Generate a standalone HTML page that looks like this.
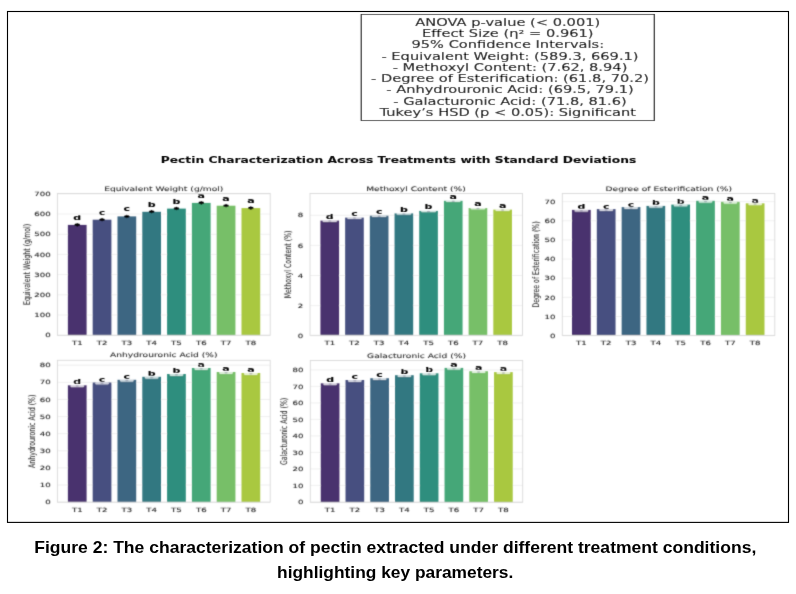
<!DOCTYPE html>
<html><head><meta charset="utf-8"><title>Figure 2</title>
<style>
html,body{margin:0;padding:0;background:#fff;}
body{width:796px;height:594px;position:relative;overflow:hidden;}
.cap{position:absolute;left:-3px;width:796px;text-align:center;font-family:"Liberation Sans",sans-serif;font-weight:bold;color:#000;white-space:nowrap;}
.cap span{display:inline-block;transform-origin:center;}
</style></head><body>
<svg width="796" height="594" viewBox="0 0 796 594" font-family="'DejaVu Sans','Liberation Sans',sans-serif" style="position:absolute;left:0;top:0"><defs><filter id="soft" x="0" y="0" width="796" height="594" filterUnits="userSpaceOnUse"><feConvolveMatrix order="3" kernelMatrix="1 4 1 4 20 4 1 4 1" divisor="40" edgeMode="duplicate" preserveAlpha="false"/></filter><filter id="soft2" x="0" y="0" width="796" height="594" filterUnits="userSpaceOnUse"><feConvolveMatrix order="3" kernelMatrix="0 1 0 1 10 1 0 1 0" divisor="14" edgeMode="duplicate" preserveAlpha="false"/></filter></defs><rect x="7.5" y="11.5" width="781" height="510.9" fill="#fff" stroke="#000" stroke-width="1.1"/><g filter="url(#soft2)"><rect transform="scale(1.468 1)" x="246.117" y="14.5" width="199.591" height="106" fill="#fff" stroke="#2e2e2e" stroke-width="0.88"/>
<text transform="translate(507.80 25.80) scale(1.468 1)" font-size="9.97" text-anchor="middle" font-weight="normal" fill="#000"  stroke="#000" stroke-width="0.1">ANOVA p-value (&lt; 0.001)</text>
<text transform="translate(507.80 37.05) scale(1.468 1)" font-size="9.97" text-anchor="middle" font-weight="normal" fill="#000"  stroke="#000" stroke-width="0.1">Effect Size (η² = 0.961)</text>
<text transform="translate(507.80 48.30) scale(1.468 1)" font-size="9.97" text-anchor="middle" font-weight="normal" fill="#000"  stroke="#000" stroke-width="0.1">95% Confidence Intervals:</text>
<text transform="translate(510.00 59.55) scale(1.468 1)" font-size="9.97" text-anchor="middle" font-weight="normal" fill="#000"  stroke="#000" stroke-width="0.1">- Equivalent Weight: (589.3, 669.1)</text>
<text transform="translate(510.00 70.80) scale(1.468 1)" font-size="9.97" text-anchor="middle" font-weight="normal" fill="#000"  stroke="#000" stroke-width="0.1">- Methoxyl Content: (7.62, 8.94)</text>
<text transform="translate(510.00 82.05) scale(1.468 1)" font-size="9.97" text-anchor="middle" font-weight="normal" fill="#000"  stroke="#000" stroke-width="0.1">- Degree of Esterification: (61.8, 70.2)</text>
<text transform="translate(510.00 93.30) scale(1.468 1)" font-size="9.97" text-anchor="middle" font-weight="normal" fill="#000"  stroke="#000" stroke-width="0.1">- Anhydrouronic Acid: (69.5, 79.1)</text>
<text transform="translate(510.00 104.55) scale(1.468 1)" font-size="9.97" text-anchor="middle" font-weight="normal" fill="#000"  stroke="#000" stroke-width="0.1">- Galacturonic Acid: (71.8, 81.6)</text>
<text transform="translate(507.80 115.80) scale(1.468 1)" font-size="9.97" text-anchor="middle" font-weight="normal" fill="#000"  stroke="#000" stroke-width="0.1">Tukey’s HSD (p &lt; 0.05): Significant</text>
<text transform="translate(398.50 163.20) scale(1.468 1)" font-size="8.37" text-anchor="middle" font-weight="bold" fill="#111"  stroke="#111" stroke-width="0.1">Pectin Characterization Across Treatments with Standard Deviations</text></g><g filter="url(#soft)"><g><line x1="57.4" x2="270.2" y1="335.15" y2="335.15" stroke="#ececec" stroke-width="0.8"/><line x1="57.4" x2="270.2" y1="314.97" y2="314.97" stroke="#ececec" stroke-width="0.8"/><line x1="57.4" x2="270.2" y1="294.79" y2="294.79" stroke="#ececec" stroke-width="0.8"/><line x1="57.4" x2="270.2" y1="274.61" y2="274.61" stroke="#ececec" stroke-width="0.8"/><line x1="57.4" x2="270.2" y1="254.43" y2="254.43" stroke="#ececec" stroke-width="0.8"/><line x1="57.4" x2="270.2" y1="234.25" y2="234.25" stroke="#ececec" stroke-width="0.8"/><line x1="57.4" x2="270.2" y1="214.07" y2="214.07" stroke="#ececec" stroke-width="0.8"/><line x1="57.4" x2="270.2" y1="193.89" y2="193.89" stroke="#ececec" stroke-width="0.8"/><rect x="67.88" y="224.90" width="18.73" height="110.40" fill="#4a326e"/><ellipse cx="77.24" cy="224.90" rx="2.9" ry="1.3" fill="#000"/><path d="M75.94 224.90 L77.24 222.90 L78.54 224.90 L77.24 226.90Z" fill="#000"/><text transform="translate(77.24 219.90) scale(1.468 1)" font-size="7.4879999999999995" text-anchor="middle" font-weight="bold" fill="#000"  stroke="#000" stroke-width="0.1">d</text><text transform="translate(77.24 344.60) scale(1.468 1)" font-size="5.85" text-anchor="middle" font-weight="normal" fill="#262626"  stroke="#262626" stroke-width="0.1">T1</text><rect x="92.68" y="219.70" width="18.73" height="115.60" fill="#475080"/><ellipse cx="102.04" cy="219.70" rx="2.9" ry="1.3" fill="#000"/><path d="M100.74 219.70 L102.04 217.70 L103.34 219.70 L102.04 221.70Z" fill="#000"/><text transform="translate(102.04 214.70) scale(1.468 1)" font-size="7.4879999999999995" text-anchor="middle" font-weight="bold" fill="#000"  stroke="#000" stroke-width="0.1">c</text><text transform="translate(102.04 344.60) scale(1.468 1)" font-size="5.85" text-anchor="middle" font-weight="normal" fill="#262626"  stroke="#262626" stroke-width="0.1">T2</text><rect x="117.48" y="216.40" width="18.73" height="118.90" fill="#3d6682"/><ellipse cx="126.85" cy="216.40" rx="2.9" ry="1.3" fill="#000"/><path d="M125.55 216.40 L126.85 214.40 L128.15 216.40 L126.85 218.40Z" fill="#000"/><text transform="translate(126.85 211.40) scale(1.468 1)" font-size="7.4879999999999995" text-anchor="middle" font-weight="bold" fill="#000"  stroke="#000" stroke-width="0.1">c</text><text transform="translate(126.85 344.60) scale(1.468 1)" font-size="5.85" text-anchor="middle" font-weight="normal" fill="#262626"  stroke="#262626" stroke-width="0.1">T3</text><rect x="142.28" y="211.80" width="18.73" height="123.50" fill="#337881"/><ellipse cx="151.65" cy="211.80" rx="2.9" ry="1.3" fill="#000"/><path d="M150.35 211.80 L151.65 209.80 L152.95 211.80 L151.65 213.80Z" fill="#000"/><text transform="translate(151.65 206.80) scale(1.468 1)" font-size="7.4879999999999995" text-anchor="middle" font-weight="bold" fill="#000"  stroke="#000" stroke-width="0.1">b</text><text transform="translate(151.65 344.60) scale(1.468 1)" font-size="5.85" text-anchor="middle" font-weight="normal" fill="#262626"  stroke="#262626" stroke-width="0.1">T4</text><rect x="167.09" y="208.60" width="18.73" height="126.70" fill="#2f8e7e"/><ellipse cx="176.45" cy="208.60" rx="2.9" ry="1.3" fill="#000"/><path d="M175.15 208.60 L176.45 206.60 L177.75 208.60 L176.45 210.60Z" fill="#000"/><text transform="translate(176.45 203.60) scale(1.468 1)" font-size="7.4879999999999995" text-anchor="middle" font-weight="bold" fill="#000"  stroke="#000" stroke-width="0.1">b</text><text transform="translate(176.45 344.60) scale(1.468 1)" font-size="5.85" text-anchor="middle" font-weight="normal" fill="#262626"  stroke="#262626" stroke-width="0.1">T5</text><rect x="191.89" y="202.90" width="18.73" height="132.40" fill="#45a778"/><ellipse cx="201.25" cy="202.90" rx="2.9" ry="1.3" fill="#000"/><path d="M199.95 202.90 L201.25 200.90 L202.55 202.90 L201.25 204.90Z" fill="#000"/><text transform="translate(201.25 197.90) scale(1.468 1)" font-size="7.4879999999999995" text-anchor="middle" font-weight="bold" fill="#000"  stroke="#000" stroke-width="0.1">a</text><text transform="translate(201.25 344.60) scale(1.468 1)" font-size="5.85" text-anchor="middle" font-weight="normal" fill="#262626"  stroke="#262626" stroke-width="0.1">T6</text><rect x="216.69" y="205.70" width="18.73" height="129.60" fill="#77bf67"/><ellipse cx="226.05" cy="205.70" rx="2.9" ry="1.3" fill="#000"/><path d="M224.75 205.70 L226.05 203.70 L227.35 205.70 L226.05 207.70Z" fill="#000"/><text transform="translate(226.05 200.70) scale(1.468 1)" font-size="7.4879999999999995" text-anchor="middle" font-weight="bold" fill="#000"  stroke="#000" stroke-width="0.1">a</text><text transform="translate(226.05 344.60) scale(1.468 1)" font-size="5.85" text-anchor="middle" font-weight="normal" fill="#262626"  stroke="#262626" stroke-width="0.1">T7</text><rect x="241.49" y="208.10" width="18.73" height="127.20" fill="#a9c841"/><ellipse cx="250.85" cy="208.10" rx="2.9" ry="1.3" fill="#000"/><path d="M249.55 208.10 L250.85 206.10 L252.15 208.10 L250.85 210.10Z" fill="#000"/><text transform="translate(250.85 203.10) scale(1.468 1)" font-size="7.4879999999999995" text-anchor="middle" font-weight="bold" fill="#000"  stroke="#000" stroke-width="0.1">a</text><text transform="translate(250.85 344.60) scale(1.468 1)" font-size="5.85" text-anchor="middle" font-weight="normal" fill="#262626"  stroke="#262626" stroke-width="0.1">T8</text><rect x="57.4" y="193.5" width="212.80" height="141.80" fill="none" stroke="#d9d9d9" stroke-width="0.9"/><text transform="translate(50.60 337.30) scale(1.468 1)" font-size="5.85" text-anchor="end" font-weight="normal" fill="#262626"  stroke="#262626" stroke-width="0.1">0</text><text transform="translate(50.60 317.12) scale(1.468 1)" font-size="5.85" text-anchor="end" font-weight="normal" fill="#262626"  stroke="#262626" stroke-width="0.1">100</text><text transform="translate(50.60 296.94) scale(1.468 1)" font-size="5.85" text-anchor="end" font-weight="normal" fill="#262626"  stroke="#262626" stroke-width="0.1">200</text><text transform="translate(50.60 276.76) scale(1.468 1)" font-size="5.85" text-anchor="end" font-weight="normal" fill="#262626"  stroke="#262626" stroke-width="0.1">300</text><text transform="translate(50.60 256.58) scale(1.468 1)" font-size="5.85" text-anchor="end" font-weight="normal" fill="#262626"  stroke="#262626" stroke-width="0.1">400</text><text transform="translate(50.60 236.40) scale(1.468 1)" font-size="5.85" text-anchor="end" font-weight="normal" fill="#262626"  stroke="#262626" stroke-width="0.1">500</text><text transform="translate(50.60 216.22) scale(1.468 1)" font-size="5.85" text-anchor="end" font-weight="normal" fill="#262626"  stroke="#262626" stroke-width="0.1">600</text><text transform="translate(50.60 196.04) scale(1.468 1)" font-size="5.85" text-anchor="end" font-weight="normal" fill="#262626"  stroke="#262626" stroke-width="0.1">700</text><text transform="translate(163.80 190.50) scale(1.468 1)" font-size="6.24" text-anchor="middle" font-weight="normal" fill="#262626"  stroke="#262626" stroke-width="0.08">Equivalent Weight (g/mol)</text><text transform="translate(29.80 264.40) scale(1.468 1) rotate(-90)" font-size="6.24" text-anchor="middle" font-weight="normal" fill="#333"  stroke="#333" stroke-width="0.04">Equivalent Weight (g/mol)</text></g>
<g><line x1="310.0" x2="522.5" y1="335.70" y2="335.70" stroke="#ececec" stroke-width="0.8"/><line x1="310.0" x2="522.5" y1="305.60" y2="305.60" stroke="#ececec" stroke-width="0.8"/><line x1="310.0" x2="522.5" y1="275.50" y2="275.50" stroke="#ececec" stroke-width="0.8"/><line x1="310.0" x2="522.5" y1="245.40" y2="245.40" stroke="#ececec" stroke-width="0.8"/><line x1="310.0" x2="522.5" y1="215.30" y2="215.30" stroke="#ececec" stroke-width="0.8"/><rect x="320.43" y="220.60" width="18.65" height="114.70" fill="#4a326e"/><rect x="322.30" y="220.30" width="14.92" height="1.6" rx="1.1" ry="0.8" fill="#fff" fill-opacity="0.74"/><ellipse cx="329.76" cy="221.10" rx="1.7" ry="0.75" fill="#70748a" fill-opacity="0.45"/><text transform="translate(329.76 218.90) scale(1.468 1)" font-size="7.4879999999999995" text-anchor="middle" font-weight="bold" fill="#000"  stroke="#000" stroke-width="0.1">d</text><text transform="translate(329.76 344.60) scale(1.468 1)" font-size="5.85" text-anchor="middle" font-weight="normal" fill="#262626"  stroke="#262626" stroke-width="0.1">T1</text><rect x="345.13" y="217.60" width="18.65" height="117.70" fill="#475080"/><rect x="347.00" y="217.30" width="14.92" height="1.6" rx="1.1" ry="0.8" fill="#fff" fill-opacity="0.74"/><ellipse cx="354.45" cy="218.10" rx="1.7" ry="0.75" fill="#70748a" fill-opacity="0.45"/><text transform="translate(354.45 215.90) scale(1.468 1)" font-size="7.4879999999999995" text-anchor="middle" font-weight="bold" fill="#000"  stroke="#000" stroke-width="0.1">c</text><text transform="translate(354.45 344.60) scale(1.468 1)" font-size="5.85" text-anchor="middle" font-weight="normal" fill="#262626"  stroke="#262626" stroke-width="0.1">T2</text><rect x="369.83" y="215.70" width="18.65" height="119.60" fill="#3d6682"/><rect x="371.69" y="215.40" width="14.92" height="1.6" rx="1.1" ry="0.8" fill="#fff" fill-opacity="0.74"/><ellipse cx="379.15" cy="216.20" rx="1.7" ry="0.75" fill="#70748a" fill-opacity="0.45"/><text transform="translate(379.15 214.00) scale(1.468 1)" font-size="7.4879999999999995" text-anchor="middle" font-weight="bold" fill="#000"  stroke="#000" stroke-width="0.1">c</text><text transform="translate(379.15 344.60) scale(1.468 1)" font-size="5.85" text-anchor="middle" font-weight="normal" fill="#262626"  stroke="#262626" stroke-width="0.1">T3</text><rect x="394.53" y="213.40" width="18.65" height="121.90" fill="#337881"/><rect x="396.39" y="213.10" width="14.92" height="1.6" rx="1.1" ry="0.8" fill="#fff" fill-opacity="0.74"/><ellipse cx="403.85" cy="213.90" rx="1.7" ry="0.75" fill="#70748a" fill-opacity="0.45"/><text transform="translate(403.85 211.70) scale(1.468 1)" font-size="7.4879999999999995" text-anchor="middle" font-weight="bold" fill="#000"  stroke="#000" stroke-width="0.1">b</text><text transform="translate(403.85 344.60) scale(1.468 1)" font-size="5.85" text-anchor="middle" font-weight="normal" fill="#262626"  stroke="#262626" stroke-width="0.1">T4</text><rect x="419.22" y="210.90" width="18.65" height="124.40" fill="#2f8e7e"/><rect x="421.09" y="210.60" width="14.92" height="1.6" rx="1.1" ry="0.8" fill="#fff" fill-opacity="0.74"/><ellipse cx="428.55" cy="211.40" rx="1.7" ry="0.75" fill="#70748a" fill-opacity="0.45"/><text transform="translate(428.55 209.20) scale(1.468 1)" font-size="7.4879999999999995" text-anchor="middle" font-weight="bold" fill="#000"  stroke="#000" stroke-width="0.1">b</text><text transform="translate(428.55 344.60) scale(1.468 1)" font-size="5.85" text-anchor="middle" font-weight="normal" fill="#262626"  stroke="#262626" stroke-width="0.1">T5</text><rect x="443.92" y="200.80" width="18.65" height="134.50" fill="#45a778"/><rect x="445.78" y="200.50" width="14.92" height="1.6" rx="1.1" ry="0.8" fill="#fff" fill-opacity="0.74"/><ellipse cx="453.24" cy="201.30" rx="1.7" ry="0.75" fill="#70748a" fill-opacity="0.45"/><text transform="translate(453.24 199.10) scale(1.468 1)" font-size="7.4879999999999995" text-anchor="middle" font-weight="bold" fill="#000"  stroke="#000" stroke-width="0.1">a</text><text transform="translate(453.24 344.60) scale(1.468 1)" font-size="5.85" text-anchor="middle" font-weight="normal" fill="#262626"  stroke="#262626" stroke-width="0.1">T6</text><rect x="468.62" y="208.10" width="18.65" height="127.20" fill="#77bf67"/><rect x="470.48" y="207.80" width="14.92" height="1.6" rx="1.1" ry="0.8" fill="#fff" fill-opacity="0.74"/><ellipse cx="477.94" cy="208.60" rx="1.7" ry="0.75" fill="#70748a" fill-opacity="0.45"/><text transform="translate(477.94 206.40) scale(1.468 1)" font-size="7.4879999999999995" text-anchor="middle" font-weight="bold" fill="#000"  stroke="#000" stroke-width="0.1">a</text><text transform="translate(477.94 344.60) scale(1.468 1)" font-size="5.85" text-anchor="middle" font-weight="normal" fill="#262626"  stroke="#262626" stroke-width="0.1">T7</text><rect x="493.31" y="209.60" width="18.65" height="125.70" fill="#a9c841"/><rect x="495.18" y="209.30" width="14.92" height="1.6" rx="1.1" ry="0.8" fill="#fff" fill-opacity="0.74"/><ellipse cx="502.64" cy="210.10" rx="1.7" ry="0.75" fill="#70748a" fill-opacity="0.45"/><text transform="translate(502.64 207.90) scale(1.468 1)" font-size="7.4879999999999995" text-anchor="middle" font-weight="bold" fill="#000"  stroke="#000" stroke-width="0.1">a</text><text transform="translate(502.64 344.60) scale(1.468 1)" font-size="5.85" text-anchor="middle" font-weight="normal" fill="#262626"  stroke="#262626" stroke-width="0.1">T8</text><rect x="310.0" y="193.5" width="212.50" height="141.80" fill="none" stroke="#d9d9d9" stroke-width="0.9"/><text transform="translate(303.20 337.85) scale(1.468 1)" font-size="5.85" text-anchor="end" font-weight="normal" fill="#262626"  stroke="#262626" stroke-width="0.1">0</text><text transform="translate(303.20 307.75) scale(1.468 1)" font-size="5.85" text-anchor="end" font-weight="normal" fill="#262626"  stroke="#262626" stroke-width="0.1">2</text><text transform="translate(303.20 277.65) scale(1.468 1)" font-size="5.85" text-anchor="end" font-weight="normal" fill="#262626"  stroke="#262626" stroke-width="0.1">4</text><text transform="translate(303.20 247.55) scale(1.468 1)" font-size="5.85" text-anchor="end" font-weight="normal" fill="#262626"  stroke="#262626" stroke-width="0.1">6</text><text transform="translate(303.20 217.45) scale(1.468 1)" font-size="5.85" text-anchor="end" font-weight="normal" fill="#262626"  stroke="#262626" stroke-width="0.1">8</text><text transform="translate(415.95 190.50) scale(1.468 1)" font-size="6.24" text-anchor="middle" font-weight="normal" fill="#262626"  stroke="#262626" stroke-width="0.08">Methoxyl Content (%)</text><text transform="translate(291.20 264.40) scale(1.468 1) rotate(-90)" font-size="6.24" text-anchor="middle" font-weight="normal" fill="#333"  stroke="#333" stroke-width="0.04">Methoxyl Content (%)</text></g>
<g><line x1="562.3" x2="774.8" y1="335.65" y2="335.65" stroke="#ececec" stroke-width="0.8"/><line x1="562.3" x2="774.8" y1="316.50" y2="316.50" stroke="#ececec" stroke-width="0.8"/><line x1="562.3" x2="774.8" y1="297.35" y2="297.35" stroke="#ececec" stroke-width="0.8"/><line x1="562.3" x2="774.8" y1="278.20" y2="278.20" stroke="#ececec" stroke-width="0.8"/><line x1="562.3" x2="774.8" y1="259.05" y2="259.05" stroke="#ececec" stroke-width="0.8"/><line x1="562.3" x2="774.8" y1="239.90" y2="239.90" stroke="#ececec" stroke-width="0.8"/><line x1="562.3" x2="774.8" y1="220.75" y2="220.75" stroke="#ececec" stroke-width="0.8"/><line x1="562.3" x2="774.8" y1="201.60" y2="201.60" stroke="#ececec" stroke-width="0.8"/><rect x="571.99" y="209.90" width="18.74" height="125.50" fill="#4a326e"/><rect x="574.43" y="209.60" width="13.87" height="2.2" rx="1.1" ry="1.1" fill="#fff" fill-opacity="0.74"/><ellipse cx="581.36" cy="210.70" rx="1.7" ry="0.75" fill="#70748a" fill-opacity="0.45"/><text transform="translate(581.36 209.40) scale(1.468 1)" font-size="7.4879999999999995" text-anchor="middle" font-weight="bold" fill="#000"  stroke="#000" stroke-width="0.1">d</text><text transform="translate(581.36 344.70) scale(1.468 1)" font-size="5.85" text-anchor="middle" font-weight="normal" fill="#262626"  stroke="#262626" stroke-width="0.1">T1</text><rect x="596.81" y="209.10" width="18.74" height="126.30" fill="#475080"/><rect x="599.25" y="208.80" width="13.87" height="2.2" rx="1.1" ry="1.1" fill="#fff" fill-opacity="0.74"/><ellipse cx="606.19" cy="209.90" rx="1.7" ry="0.75" fill="#70748a" fill-opacity="0.45"/><text transform="translate(606.19 208.60) scale(1.468 1)" font-size="7.4879999999999995" text-anchor="middle" font-weight="bold" fill="#000"  stroke="#000" stroke-width="0.1">c</text><text transform="translate(606.19 344.70) scale(1.468 1)" font-size="5.85" text-anchor="middle" font-weight="normal" fill="#262626"  stroke="#262626" stroke-width="0.1">T2</text><rect x="621.64" y="207.10" width="18.74" height="128.30" fill="#3d6682"/><rect x="624.08" y="206.80" width="13.87" height="2.2" rx="1.1" ry="1.1" fill="#fff" fill-opacity="0.74"/><ellipse cx="631.01" cy="207.90" rx="1.7" ry="0.75" fill="#70748a" fill-opacity="0.45"/><text transform="translate(631.01 206.60) scale(1.468 1)" font-size="7.4879999999999995" text-anchor="middle" font-weight="bold" fill="#000"  stroke="#000" stroke-width="0.1">c</text><text transform="translate(631.01 344.70) scale(1.468 1)" font-size="5.85" text-anchor="middle" font-weight="normal" fill="#262626"  stroke="#262626" stroke-width="0.1">T3</text><rect x="646.46" y="205.90" width="18.74" height="129.50" fill="#337881"/><rect x="648.90" y="205.60" width="13.87" height="2.2" rx="1.1" ry="1.1" fill="#fff" fill-opacity="0.74"/><ellipse cx="655.84" cy="206.70" rx="1.7" ry="0.75" fill="#70748a" fill-opacity="0.45"/><text transform="translate(655.84 205.40) scale(1.468 1)" font-size="7.4879999999999995" text-anchor="middle" font-weight="bold" fill="#000"  stroke="#000" stroke-width="0.1">b</text><text transform="translate(655.84 344.70) scale(1.468 1)" font-size="5.85" text-anchor="middle" font-weight="normal" fill="#262626"  stroke="#262626" stroke-width="0.1">T4</text><rect x="671.29" y="204.60" width="18.74" height="130.80" fill="#2f8e7e"/><rect x="673.73" y="204.30" width="13.87" height="2.2" rx="1.1" ry="1.1" fill="#fff" fill-opacity="0.74"/><ellipse cx="680.66" cy="205.40" rx="1.7" ry="0.75" fill="#70748a" fill-opacity="0.45"/><text transform="translate(680.66 204.10) scale(1.468 1)" font-size="7.4879999999999995" text-anchor="middle" font-weight="bold" fill="#000"  stroke="#000" stroke-width="0.1">b</text><text transform="translate(680.66 344.70) scale(1.468 1)" font-size="5.85" text-anchor="middle" font-weight="normal" fill="#262626"  stroke="#262626" stroke-width="0.1">T5</text><rect x="696.11" y="200.80" width="18.74" height="134.60" fill="#45a778"/><rect x="698.55" y="200.50" width="13.87" height="2.2" rx="1.1" ry="1.1" fill="#fff" fill-opacity="0.74"/><ellipse cx="705.49" cy="201.60" rx="1.7" ry="0.75" fill="#70748a" fill-opacity="0.45"/><text transform="translate(705.49 200.30) scale(1.468 1)" font-size="7.4879999999999995" text-anchor="middle" font-weight="bold" fill="#000"  stroke="#000" stroke-width="0.1">a</text><text transform="translate(705.49 344.70) scale(1.468 1)" font-size="5.85" text-anchor="middle" font-weight="normal" fill="#262626"  stroke="#262626" stroke-width="0.1">T6</text><rect x="720.94" y="201.80" width="18.74" height="133.60" fill="#77bf67"/><rect x="723.38" y="201.50" width="13.87" height="2.2" rx="1.1" ry="1.1" fill="#fff" fill-opacity="0.74"/><ellipse cx="730.31" cy="202.60" rx="1.7" ry="0.75" fill="#70748a" fill-opacity="0.45"/><text transform="translate(730.31 201.30) scale(1.468 1)" font-size="7.4879999999999995" text-anchor="middle" font-weight="bold" fill="#000"  stroke="#000" stroke-width="0.1">a</text><text transform="translate(730.31 344.70) scale(1.468 1)" font-size="5.85" text-anchor="middle" font-weight="normal" fill="#262626"  stroke="#262626" stroke-width="0.1">T7</text><rect x="745.76" y="203.30" width="18.74" height="132.10" fill="#a9c841"/><rect x="748.20" y="203.00" width="13.87" height="2.2" rx="1.1" ry="1.1" fill="#fff" fill-opacity="0.74"/><ellipse cx="755.14" cy="204.10" rx="1.7" ry="0.75" fill="#70748a" fill-opacity="0.45"/><text transform="translate(755.14 202.80) scale(1.468 1)" font-size="7.4879999999999995" text-anchor="middle" font-weight="bold" fill="#000"  stroke="#000" stroke-width="0.1">a</text><text transform="translate(755.14 344.70) scale(1.468 1)" font-size="5.85" text-anchor="middle" font-weight="normal" fill="#262626"  stroke="#262626" stroke-width="0.1">T8</text><rect x="562.3" y="193.5" width="212.50" height="141.90" fill="none" stroke="#d9d9d9" stroke-width="0.9"/><text transform="translate(555.50 337.80) scale(1.468 1)" font-size="5.85" text-anchor="end" font-weight="normal" fill="#262626"  stroke="#262626" stroke-width="0.1">0</text><text transform="translate(555.50 318.65) scale(1.468 1)" font-size="5.85" text-anchor="end" font-weight="normal" fill="#262626"  stroke="#262626" stroke-width="0.1">10</text><text transform="translate(555.50 299.50) scale(1.468 1)" font-size="5.85" text-anchor="end" font-weight="normal" fill="#262626"  stroke="#262626" stroke-width="0.1">20</text><text transform="translate(555.50 280.35) scale(1.468 1)" font-size="5.85" text-anchor="end" font-weight="normal" fill="#262626"  stroke="#262626" stroke-width="0.1">30</text><text transform="translate(555.50 261.20) scale(1.468 1)" font-size="5.85" text-anchor="end" font-weight="normal" fill="#262626"  stroke="#262626" stroke-width="0.1">40</text><text transform="translate(555.50 242.05) scale(1.468 1)" font-size="5.85" text-anchor="end" font-weight="normal" fill="#262626"  stroke="#262626" stroke-width="0.1">50</text><text transform="translate(555.50 222.90) scale(1.468 1)" font-size="5.85" text-anchor="end" font-weight="normal" fill="#262626"  stroke="#262626" stroke-width="0.1">60</text><text transform="translate(555.50 203.75) scale(1.468 1)" font-size="5.85" text-anchor="end" font-weight="normal" fill="#262626"  stroke="#262626" stroke-width="0.1">70</text><text transform="translate(668.80 190.50) scale(1.468 1)" font-size="6.24" text-anchor="middle" font-weight="normal" fill="#262626"  stroke="#262626" stroke-width="0.08">Degree of Esterification (%)</text><text transform="translate(538.90 264.45) scale(1.468 1) rotate(-90)" font-size="6.24" text-anchor="middle" font-weight="normal" fill="#333"  stroke="#333" stroke-width="0.04">Degree of Esterification (%)</text></g>
<g><line x1="57.4" x2="270.2" y1="502.10" y2="502.10" stroke="#ececec" stroke-width="0.8"/><line x1="57.4" x2="270.2" y1="484.99" y2="484.99" stroke="#ececec" stroke-width="0.8"/><line x1="57.4" x2="270.2" y1="467.88" y2="467.88" stroke="#ececec" stroke-width="0.8"/><line x1="57.4" x2="270.2" y1="450.77" y2="450.77" stroke="#ececec" stroke-width="0.8"/><line x1="57.4" x2="270.2" y1="433.66" y2="433.66" stroke="#ececec" stroke-width="0.8"/><line x1="57.4" x2="270.2" y1="416.55" y2="416.55" stroke="#ececec" stroke-width="0.8"/><line x1="57.4" x2="270.2" y1="399.44" y2="399.44" stroke="#ececec" stroke-width="0.8"/><line x1="57.4" x2="270.2" y1="382.33" y2="382.33" stroke="#ececec" stroke-width="0.8"/><line x1="57.4" x2="270.2" y1="365.22" y2="365.22" stroke="#ececec" stroke-width="0.8"/><rect x="67.88" y="385.30" width="18.73" height="116.90" fill="#4a326e"/><rect x="70.31" y="385.00" width="13.86" height="2.2" rx="1.1" ry="1.1" fill="#fff" fill-opacity="0.74"/><ellipse cx="77.24" cy="386.10" rx="1.7" ry="0.75" fill="#70748a" fill-opacity="0.45"/><text transform="translate(77.24 384.40) scale(1.468 1)" font-size="7.4879999999999995" text-anchor="middle" font-weight="bold" fill="#000"  stroke="#000" stroke-width="0.1">d</text><text transform="translate(77.24 512.30) scale(1.468 1)" font-size="5.85" text-anchor="middle" font-weight="normal" fill="#262626"  stroke="#262626" stroke-width="0.1">T1</text><rect x="92.68" y="382.50" width="18.73" height="119.70" fill="#475080"/><rect x="95.11" y="382.20" width="13.86" height="2.2" rx="1.1" ry="1.1" fill="#fff" fill-opacity="0.74"/><ellipse cx="102.04" cy="383.30" rx="1.7" ry="0.75" fill="#70748a" fill-opacity="0.45"/><text transform="translate(102.04 381.60) scale(1.468 1)" font-size="7.4879999999999995" text-anchor="middle" font-weight="bold" fill="#000"  stroke="#000" stroke-width="0.1">c</text><text transform="translate(102.04 512.30) scale(1.468 1)" font-size="5.85" text-anchor="middle" font-weight="normal" fill="#262626"  stroke="#262626" stroke-width="0.1">T2</text><rect x="117.48" y="379.80" width="18.73" height="122.40" fill="#3d6682"/><rect x="119.92" y="379.50" width="13.86" height="2.2" rx="1.1" ry="1.1" fill="#fff" fill-opacity="0.74"/><ellipse cx="126.85" cy="380.60" rx="1.7" ry="0.75" fill="#70748a" fill-opacity="0.45"/><text transform="translate(126.85 378.90) scale(1.468 1)" font-size="7.4879999999999995" text-anchor="middle" font-weight="bold" fill="#000"  stroke="#000" stroke-width="0.1">c</text><text transform="translate(126.85 512.30) scale(1.468 1)" font-size="5.85" text-anchor="middle" font-weight="normal" fill="#262626"  stroke="#262626" stroke-width="0.1">T3</text><rect x="142.28" y="376.80" width="18.73" height="125.40" fill="#337881"/><rect x="144.72" y="376.50" width="13.86" height="2.2" rx="1.1" ry="1.1" fill="#fff" fill-opacity="0.74"/><ellipse cx="151.65" cy="377.60" rx="1.7" ry="0.75" fill="#70748a" fill-opacity="0.45"/><text transform="translate(151.65 375.90) scale(1.468 1)" font-size="7.4879999999999995" text-anchor="middle" font-weight="bold" fill="#000"  stroke="#000" stroke-width="0.1">b</text><text transform="translate(151.65 512.30) scale(1.468 1)" font-size="5.85" text-anchor="middle" font-weight="normal" fill="#262626"  stroke="#262626" stroke-width="0.1">T4</text><rect x="167.09" y="374.00" width="18.73" height="128.20" fill="#2f8e7e"/><rect x="169.52" y="373.70" width="13.86" height="2.2" rx="1.1" ry="1.1" fill="#fff" fill-opacity="0.74"/><ellipse cx="176.45" cy="374.80" rx="1.7" ry="0.75" fill="#70748a" fill-opacity="0.45"/><text transform="translate(176.45 373.10) scale(1.468 1)" font-size="7.4879999999999995" text-anchor="middle" font-weight="bold" fill="#000"  stroke="#000" stroke-width="0.1">b</text><text transform="translate(176.45 512.30) scale(1.468 1)" font-size="5.85" text-anchor="middle" font-weight="normal" fill="#262626"  stroke="#262626" stroke-width="0.1">T5</text><rect x="191.89" y="368.00" width="18.73" height="134.20" fill="#45a778"/><rect x="194.32" y="367.70" width="13.86" height="2.2" rx="1.1" ry="1.1" fill="#fff" fill-opacity="0.74"/><ellipse cx="201.25" cy="368.80" rx="1.7" ry="0.75" fill="#70748a" fill-opacity="0.45"/><text transform="translate(201.25 367.10) scale(1.468 1)" font-size="7.4879999999999995" text-anchor="middle" font-weight="bold" fill="#000"  stroke="#000" stroke-width="0.1">a</text><text transform="translate(201.25 512.30) scale(1.468 1)" font-size="5.85" text-anchor="middle" font-weight="normal" fill="#262626"  stroke="#262626" stroke-width="0.1">T6</text><rect x="216.69" y="372.00" width="18.73" height="130.20" fill="#77bf67"/><rect x="219.12" y="371.70" width="13.86" height="2.2" rx="1.1" ry="1.1" fill="#fff" fill-opacity="0.74"/><ellipse cx="226.05" cy="372.80" rx="1.7" ry="0.75" fill="#70748a" fill-opacity="0.45"/><text transform="translate(226.05 371.10) scale(1.468 1)" font-size="7.4879999999999995" text-anchor="middle" font-weight="bold" fill="#000"  stroke="#000" stroke-width="0.1">a</text><text transform="translate(226.05 512.30) scale(1.468 1)" font-size="5.85" text-anchor="middle" font-weight="normal" fill="#262626"  stroke="#262626" stroke-width="0.1">T7</text><rect x="241.49" y="373.00" width="18.73" height="129.20" fill="#a9c841"/><rect x="243.93" y="372.70" width="13.86" height="2.2" rx="1.1" ry="1.1" fill="#fff" fill-opacity="0.74"/><ellipse cx="250.85" cy="373.80" rx="1.7" ry="0.75" fill="#70748a" fill-opacity="0.45"/><text transform="translate(250.85 372.10) scale(1.468 1)" font-size="7.4879999999999995" text-anchor="middle" font-weight="bold" fill="#000"  stroke="#000" stroke-width="0.1">a</text><text transform="translate(250.85 512.30) scale(1.468 1)" font-size="5.85" text-anchor="middle" font-weight="normal" fill="#262626"  stroke="#262626" stroke-width="0.1">T8</text><rect x="57.4" y="360.3" width="212.80" height="141.90" fill="none" stroke="#d9d9d9" stroke-width="0.9"/><text transform="translate(50.60 504.25) scale(1.468 1)" font-size="5.85" text-anchor="end" font-weight="normal" fill="#262626"  stroke="#262626" stroke-width="0.1">0</text><text transform="translate(50.60 487.14) scale(1.468 1)" font-size="5.85" text-anchor="end" font-weight="normal" fill="#262626"  stroke="#262626" stroke-width="0.1">10</text><text transform="translate(50.60 470.03) scale(1.468 1)" font-size="5.85" text-anchor="end" font-weight="normal" fill="#262626"  stroke="#262626" stroke-width="0.1">20</text><text transform="translate(50.60 452.92) scale(1.468 1)" font-size="5.85" text-anchor="end" font-weight="normal" fill="#262626"  stroke="#262626" stroke-width="0.1">30</text><text transform="translate(50.60 435.81) scale(1.468 1)" font-size="5.85" text-anchor="end" font-weight="normal" fill="#262626"  stroke="#262626" stroke-width="0.1">40</text><text transform="translate(50.60 418.70) scale(1.468 1)" font-size="5.85" text-anchor="end" font-weight="normal" fill="#262626"  stroke="#262626" stroke-width="0.1">50</text><text transform="translate(50.60 401.59) scale(1.468 1)" font-size="5.85" text-anchor="end" font-weight="normal" fill="#262626"  stroke="#262626" stroke-width="0.1">60</text><text transform="translate(50.60 384.48) scale(1.468 1)" font-size="5.85" text-anchor="end" font-weight="normal" fill="#262626"  stroke="#262626" stroke-width="0.1">70</text><text transform="translate(50.60 367.37) scale(1.468 1)" font-size="5.85" text-anchor="end" font-weight="normal" fill="#262626"  stroke="#262626" stroke-width="0.1">80</text><text transform="translate(163.80 357.30) scale(1.468 1)" font-size="6.24" text-anchor="middle" font-weight="normal" fill="#262626"  stroke="#262626" stroke-width="0.08">Anhydrouronic Acid (%)</text><text transform="translate(34.50 431.25) scale(1.468 1) rotate(-90)" font-size="6.24" text-anchor="middle" font-weight="normal" fill="#333"  stroke="#333" stroke-width="0.04">Anhydrouronic Acid (%)</text></g>
<g><line x1="310.3" x2="522.7" y1="501.90" y2="501.90" stroke="#ececec" stroke-width="0.8"/><line x1="310.3" x2="522.7" y1="485.40" y2="485.40" stroke="#ececec" stroke-width="0.8"/><line x1="310.3" x2="522.7" y1="468.90" y2="468.90" stroke="#ececec" stroke-width="0.8"/><line x1="310.3" x2="522.7" y1="452.40" y2="452.40" stroke="#ececec" stroke-width="0.8"/><line x1="310.3" x2="522.7" y1="435.90" y2="435.90" stroke="#ececec" stroke-width="0.8"/><line x1="310.3" x2="522.7" y1="419.40" y2="419.40" stroke="#ececec" stroke-width="0.8"/><line x1="310.3" x2="522.7" y1="402.90" y2="402.90" stroke="#ececec" stroke-width="0.8"/><line x1="310.3" x2="522.7" y1="386.40" y2="386.40" stroke="#ececec" stroke-width="0.8"/><line x1="310.3" x2="522.7" y1="369.90" y2="369.90" stroke="#ececec" stroke-width="0.8"/><rect x="320.76" y="383.30" width="18.69" height="119.00" fill="#4a326e"/><rect x="323.19" y="383.00" width="13.83" height="2.2" rx="1.1" ry="1.1" fill="#fff" fill-opacity="0.74"/><ellipse cx="330.10" cy="384.10" rx="1.7" ry="0.75" fill="#70748a" fill-opacity="0.45"/><text transform="translate(330.10 381.90) scale(1.468 1)" font-size="7.4879999999999995" text-anchor="middle" font-weight="bold" fill="#000"  stroke="#000" stroke-width="0.1">d</text><text transform="translate(330.10 512.30) scale(1.468 1)" font-size="5.85" text-anchor="middle" font-weight="normal" fill="#262626"  stroke="#262626" stroke-width="0.1">T1</text><rect x="345.51" y="380.00" width="18.69" height="122.30" fill="#475080"/><rect x="347.94" y="379.70" width="13.83" height="2.2" rx="1.1" ry="1.1" fill="#fff" fill-opacity="0.74"/><ellipse cx="354.86" cy="380.80" rx="1.7" ry="0.75" fill="#70748a" fill-opacity="0.45"/><text transform="translate(354.86 378.60) scale(1.468 1)" font-size="7.4879999999999995" text-anchor="middle" font-weight="bold" fill="#000"  stroke="#000" stroke-width="0.1">c</text><text transform="translate(354.86 512.30) scale(1.468 1)" font-size="5.85" text-anchor="middle" font-weight="normal" fill="#262626"  stroke="#262626" stroke-width="0.1">T2</text><rect x="370.27" y="378.20" width="18.69" height="124.10" fill="#3d6682"/><rect x="372.70" y="377.90" width="13.83" height="2.2" rx="1.1" ry="1.1" fill="#fff" fill-opacity="0.74"/><ellipse cx="379.61" cy="379.00" rx="1.7" ry="0.75" fill="#70748a" fill-opacity="0.45"/><text transform="translate(379.61 376.80) scale(1.468 1)" font-size="7.4879999999999995" text-anchor="middle" font-weight="bold" fill="#000"  stroke="#000" stroke-width="0.1">c</text><text transform="translate(379.61 512.30) scale(1.468 1)" font-size="5.85" text-anchor="middle" font-weight="normal" fill="#262626"  stroke="#262626" stroke-width="0.1">T3</text><rect x="395.02" y="375.20" width="18.69" height="127.10" fill="#337881"/><rect x="397.45" y="374.90" width="13.83" height="2.2" rx="1.1" ry="1.1" fill="#fff" fill-opacity="0.74"/><ellipse cx="404.37" cy="376.00" rx="1.7" ry="0.75" fill="#70748a" fill-opacity="0.45"/><text transform="translate(404.37 373.80) scale(1.468 1)" font-size="7.4879999999999995" text-anchor="middle" font-weight="bold" fill="#000"  stroke="#000" stroke-width="0.1">b</text><text transform="translate(404.37 512.30) scale(1.468 1)" font-size="5.85" text-anchor="middle" font-weight="normal" fill="#262626"  stroke="#262626" stroke-width="0.1">T4</text><rect x="419.78" y="373.30" width="18.69" height="129.00" fill="#2f8e7e"/><rect x="422.21" y="373.00" width="13.83" height="2.2" rx="1.1" ry="1.1" fill="#fff" fill-opacity="0.74"/><ellipse cx="429.13" cy="374.10" rx="1.7" ry="0.75" fill="#70748a" fill-opacity="0.45"/><text transform="translate(429.13 371.90) scale(1.468 1)" font-size="7.4879999999999995" text-anchor="middle" font-weight="bold" fill="#000"  stroke="#000" stroke-width="0.1">b</text><text transform="translate(429.13 512.30) scale(1.468 1)" font-size="5.85" text-anchor="middle" font-weight="normal" fill="#262626"  stroke="#262626" stroke-width="0.1">T5</text><rect x="444.54" y="367.90" width="18.69" height="134.40" fill="#45a778"/><rect x="446.97" y="367.60" width="13.83" height="2.2" rx="1.1" ry="1.1" fill="#fff" fill-opacity="0.74"/><ellipse cx="453.88" cy="368.70" rx="1.7" ry="0.75" fill="#70748a" fill-opacity="0.45"/><text transform="translate(453.88 366.50) scale(1.468 1)" font-size="7.4879999999999995" text-anchor="middle" font-weight="bold" fill="#000"  stroke="#000" stroke-width="0.1">a</text><text transform="translate(453.88 512.30) scale(1.468 1)" font-size="5.85" text-anchor="middle" font-weight="normal" fill="#262626"  stroke="#262626" stroke-width="0.1">T6</text><rect x="469.29" y="371.20" width="18.69" height="131.10" fill="#77bf67"/><rect x="471.72" y="370.90" width="13.83" height="2.2" rx="1.1" ry="1.1" fill="#fff" fill-opacity="0.74"/><ellipse cx="478.64" cy="372.00" rx="1.7" ry="0.75" fill="#70748a" fill-opacity="0.45"/><text transform="translate(478.64 369.80) scale(1.468 1)" font-size="7.4879999999999995" text-anchor="middle" font-weight="bold" fill="#000"  stroke="#000" stroke-width="0.1">a</text><text transform="translate(478.64 512.30) scale(1.468 1)" font-size="5.85" text-anchor="middle" font-weight="normal" fill="#262626"  stroke="#262626" stroke-width="0.1">T7</text><rect x="494.05" y="372.10" width="18.69" height="130.20" fill="#a9c841"/><rect x="496.48" y="371.80" width="13.83" height="2.2" rx="1.1" ry="1.1" fill="#fff" fill-opacity="0.74"/><ellipse cx="503.39" cy="372.90" rx="1.7" ry="0.75" fill="#70748a" fill-opacity="0.45"/><text transform="translate(503.39 370.70) scale(1.468 1)" font-size="7.4879999999999995" text-anchor="middle" font-weight="bold" fill="#000"  stroke="#000" stroke-width="0.1">a</text><text transform="translate(503.39 512.30) scale(1.468 1)" font-size="5.85" text-anchor="middle" font-weight="normal" fill="#262626"  stroke="#262626" stroke-width="0.1">T8</text><rect x="310.3" y="360.5" width="212.40" height="141.80" fill="none" stroke="#d9d9d9" stroke-width="0.9"/><text transform="translate(303.50 504.05) scale(1.468 1)" font-size="5.85" text-anchor="end" font-weight="normal" fill="#262626"  stroke="#262626" stroke-width="0.1">0</text><text transform="translate(303.50 487.55) scale(1.468 1)" font-size="5.85" text-anchor="end" font-weight="normal" fill="#262626"  stroke="#262626" stroke-width="0.1">10</text><text transform="translate(303.50 471.05) scale(1.468 1)" font-size="5.85" text-anchor="end" font-weight="normal" fill="#262626"  stroke="#262626" stroke-width="0.1">20</text><text transform="translate(303.50 454.55) scale(1.468 1)" font-size="5.85" text-anchor="end" font-weight="normal" fill="#262626"  stroke="#262626" stroke-width="0.1">30</text><text transform="translate(303.50 438.05) scale(1.468 1)" font-size="5.85" text-anchor="end" font-weight="normal" fill="#262626"  stroke="#262626" stroke-width="0.1">40</text><text transform="translate(303.50 421.55) scale(1.468 1)" font-size="5.85" text-anchor="end" font-weight="normal" fill="#262626"  stroke="#262626" stroke-width="0.1">50</text><text transform="translate(303.50 405.05) scale(1.468 1)" font-size="5.85" text-anchor="end" font-weight="normal" fill="#262626"  stroke="#262626" stroke-width="0.1">60</text><text transform="translate(303.50 388.55) scale(1.468 1)" font-size="5.85" text-anchor="end" font-weight="normal" fill="#262626"  stroke="#262626" stroke-width="0.1">70</text><text transform="translate(303.50 372.05) scale(1.468 1)" font-size="5.85" text-anchor="end" font-weight="normal" fill="#262626"  stroke="#262626" stroke-width="0.1">80</text><text transform="translate(416.50 357.50) scale(1.468 1)" font-size="6.24" text-anchor="middle" font-weight="normal" fill="#262626"  stroke="#262626" stroke-width="0.08">Galacturonic Acid (%)</text><text transform="translate(287.00 431.40) scale(1.468 1) rotate(-90)" font-size="6.24" text-anchor="middle" font-weight="normal" fill="#333"  stroke="#333" stroke-width="0.04">Galacturonic Acid (%)</text></g></g></svg>
<div class="cap" style="top:534.5px;font-size:16.2px;line-height:25px;"><span id="c1" style="transform:scaleX(1.0833)">Figure 2: The characterization of pectin extracted under different treatment conditions,</span></div>
<div class="cap" style="top:559.6px;font-size:16.2px;line-height:25px;"><span id="c2" style="transform:scaleX(1.0716)">highlighting key parameters.</span></div>
</body></html>
